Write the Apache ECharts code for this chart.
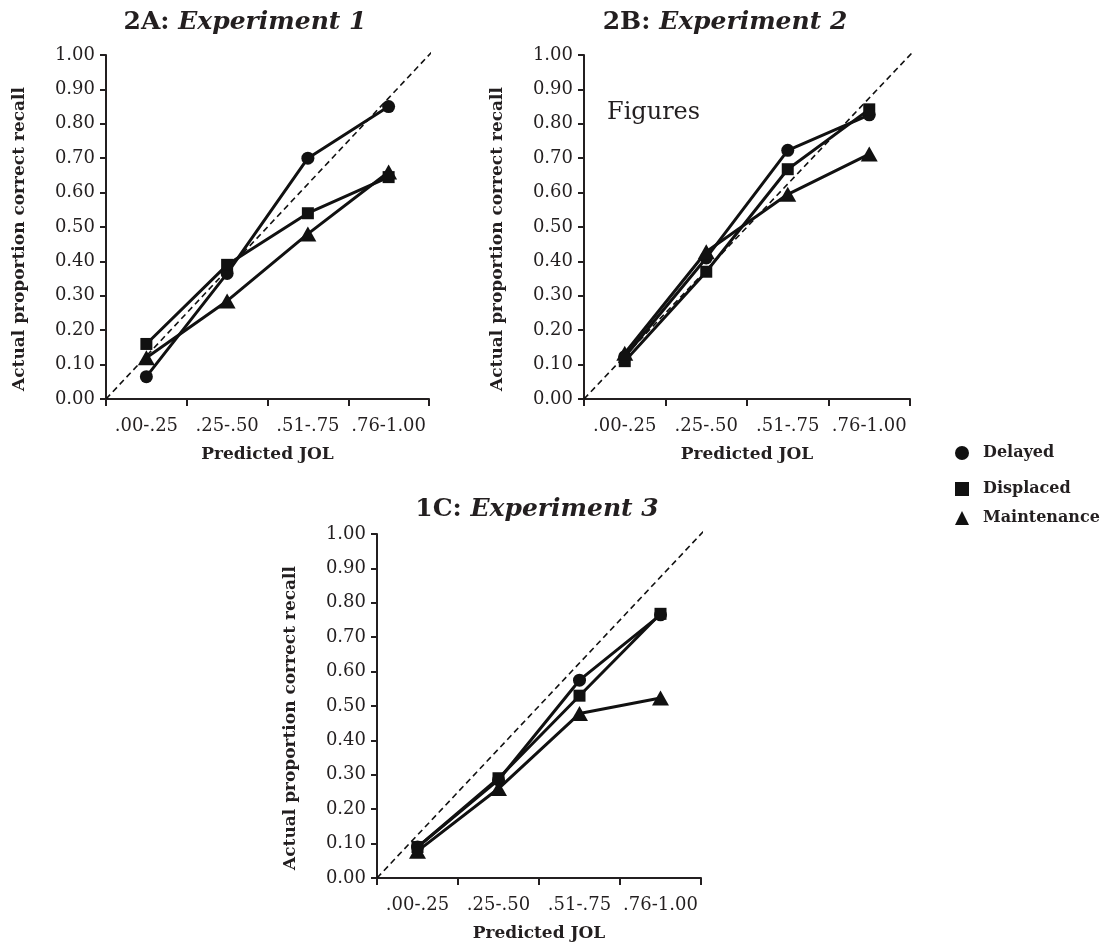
<!DOCTYPE html>
<html>
<head>
<meta charset="utf-8">
<title>JOL calibration</title>
<script src="https://cdn.jsdelivr.net/npm/echarts@6/dist/echarts.min.js"></script>
<style>
  html, body { margin: 0; padding: 0; background: #fff; }
  #main { width: 1112px; height: 945px; }
</style>
</head>
<body>
<div id="main"></div>
<script>
// predicted JOL bins
var categories = ['.00-.25', '.25-.50', '.51-.75', '.76-1.00'];
var seriesNames = ['Delayed', 'Displaced', 'Maintenance'];

// 2A: Experiment 1
var exp1Delayed = [0.065, 0.365, 0.70, 0.85];
var exp1Displaced = [0.16, 0.39, 0.54, 0.645];
var exp1Maintenance = [0.12, 0.285, 0.48, 0.66];

// 2B: Experiment 2
var exp2Delayed = [0.123, 0.41, 0.723, 0.826];
var exp2Displaced = [0.11, 0.37, 0.668, 0.842];
var exp2Maintenance = [0.133, 0.428, 0.595, 0.712];

// 1C: Experiment 3
var exp3Delayed = [0.09, 0.285, 0.575, 0.765];
var exp3Displaced = [0.09, 0.29, 0.53, 0.768];
var exp3Maintenance = [0.078, 0.26, 0.478, 0.523];

// perfect calibration line
var diagonal = [[0, 0], [1.012, 1.012]];

var panels = [
  { label: '2A: ', title: 'Experiment 1', data: [exp1Delayed, exp1Displaced, exp1Maintenance],
    left: 106, top: 55, width: 323, height: 344, titleX: 245, titleY: 10 },
  { label: '2B: ', title: 'Experiment 2', data: [exp2Delayed, exp2Displaced, exp2Maintenance],
    left: 584, top: 55, width: 326, height: 344, titleX: 725, titleY: 10 },
  { label: '1C: ', title: 'Experiment 3', data: [exp3Delayed, exp3Displaced, exp3Maintenance],
    left: 377, top: 534, width: 324, height: 344, titleX: 537, titleY: 497 }
];

var ink = '#231f20';
var serif = 'DejaVu Serif';
var symbols = ['circle', 'rect', 'triangle'];
var symbolSizes = [13, 12, [17, 15]];

var grids = [], xAxes = [], yAxes = [], series = [], titles = [];

panels.forEach(function (p, i) {
  grids.push({ left: p.left, top: p.top, width: p.width, height: p.height, outerBoundsMode: 'none' });

  titles.push({
    text: '{a|' + p.label + '}{b|' + p.title + '}',
    left: p.titleX,
    top: p.titleY,
    textAlign: 'center',
    padding: 0,
    textStyle: {
      rich: {
        a: { fontFamily: serif, fontWeight: 'bold', fontSize: 25, color: ink },
        b: { fontFamily: serif, fontWeight: 'bold', fontStyle: 'italic', fontSize: 25, color: ink }
      }
    }
  });

  xAxes.push({
    type: 'category',
    gridIndex: i,
    data: categories,
    boundaryGap: true,
    name: 'Predicted JOL',
    nameLocation: 'middle',
    nameGap: 47,
    nameTextStyle: { fontFamily: serif, fontWeight: 'bold', fontSize: 17, color: ink },
    axisLine: { lineStyle: { color: ink, width: 2 } },
    axisTick: { show: true, length: 7, lineStyle: { color: ink, width: 2 } },
    axisLabel: { fontFamily: serif, fontSize: 18, color: ink, margin: 18, interval: 0 },
    splitLine: { show: false }
  });

  yAxes.push({
    type: 'value',
    gridIndex: i,
    min: 0,
    max: 1,
    interval: 0.1,
    name: 'Actual proportion correct recall',
    nameLocation: 'middle',
    nameGap: 78,
    nameTextStyle: {
      fontFamily: serif, fontWeight: 'bold', fontSize: 17, color: ink,
      padding: [0, 24, 0, 0]
    },
    axisLine: { show: true, lineStyle: { color: ink, width: 2 } },
    axisTick: { show: true, length: 6, lineStyle: { color: ink, width: 2 } },
    axisLabel: {
      fontFamily: serif, fontSize: 18, color: ink, margin: 11,
      formatter: function (v) { return v.toFixed(2); }
    },
    splitLine: { show: false }
  });

  p.data.forEach(function (vals, k) {
    series.push({
      name: seriesNames[k],
      type: 'line',
      xAxisIndex: i,
      yAxisIndex: i,
      data: vals,
      symbol: symbols[k],
      symbolSize: symbolSizes[k],
      z: 3 + k,
      itemStyle: { color: '#111' },
      lineStyle: { color: '#111', width: 3 }
    });
  });
});

// hidden value axes for the diagonal reference line
panels.forEach(function (p, i) {
  xAxes.push({ type: 'value', gridIndex: i, min: 0, max: 1, show: false });
  series.push({
    type: 'line',
    xAxisIndex: 3 + i,
    yAxisIndex: i,
    data: diagonal,
    symbol: 'none',
    clip: false,
    silent: true,
    z: 1,
    lineStyle: { color: '#111', width: 1.6, type: [6, 4] }
  });
});

titles.push({
  text: 'Figures',
  left: 607,
  top: 101,
  padding: 0,
  textStyle: { fontFamily: serif, fontWeight: 'normal', fontSize: 24, color: ink }
});

var legendTops = [445, 481, 510];
var legends = seriesNames.map(function (n, k) {
  return {
    left: 955,
    top: legendTops[k],
    orient: 'vertical',
    padding: 0,
    itemWidth: 14,
    itemHeight: 14,
    data: [{ name: n, icon: symbols[k] }],
    itemStyle: { color: '#111' },
    textStyle: { fontFamily: serif, fontWeight: 'bold', fontSize: 16, color: ink, padding: [0, 0, 0, 9] }
  };
});

var myChart = echarts.init(document.getElementById('main'), null, { renderer: 'canvas' });
myChart.setOption({
  backgroundColor: '#ffffff',
  animation: false,
  title: titles,
  legend: legends,
  grid: grids,
  xAxis: xAxes,
  yAxis: yAxes,
  series: series
});
</script>
</body>
</html>
